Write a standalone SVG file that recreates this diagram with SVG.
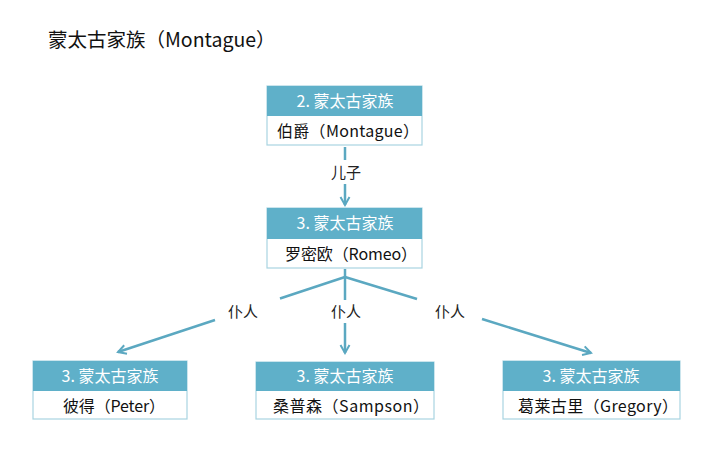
<svg xmlns="http://www.w3.org/2000/svg" width="717" height="453" viewBox="0 0 717 453">
<defs>
<marker id="arr" markerWidth="12" markerHeight="12" refX="10" refY="6" orient="auto" markerUnits="userSpaceOnUse">
<path d="M2,1.5 L10,6 L2,10.5" fill="none" stroke="#5ba8c1" stroke-width="2"/>
</marker>
<style>
.hdr{fill:#5fb0c9}
.body{fill:#ffffff;stroke:#a9d4e1;stroke-width:1.2}
.ht{font-family:"Noto Sans CJK SC","Noto Sans",sans-serif;font-size:16px;fill:#ffffff;text-anchor:middle}
.bt{font-family:"Noto Sans CJK SC","Noto Sans",sans-serif;font-size:16px;fill:#111111}
.lbl{font-family:"Noto Sans CJK SC",sans-serif;font-size:15px;fill:#222222;text-anchor:middle}
.ln{stroke:#5ba8c1;stroke-width:2.5;fill:none}
</style>
</defs>
<rect width="717" height="453" fill="#ffffff"/>
<text x="48" y="47" font-family="'Noto Sans CJK SC','Noto Sans',sans-serif" font-size="19.5" fill="#111">蒙太古家族（Montague）</text>

<g id="connectors">
<line class="ln" x1="345" y1="147" x2="345" y2="160"/>
<line class="ln" x1="345" y1="184" x2="345" y2="205" marker-end="url(#arr)"/>
<line class="ln" x1="345" y1="269" x2="345" y2="277"/>
<line class="ln" x1="345" y1="277" x2="280" y2="298.5"/>
<line class="ln" x1="215" y1="320" x2="118" y2="352" marker-end="url(#arr)"/>
<line class="ln" x1="345" y1="277" x2="345" y2="300"/>
<line class="ln" x1="345" y1="323" x2="345" y2="353" marker-end="url(#arr)"/>
<line class="ln" x1="345" y1="277" x2="417" y2="299"/>
<line class="ln" x1="482" y1="319" x2="591" y2="353" marker-end="url(#arr)"/>
<text class="lbl" x="346" y="178">儿子</text>
<text class="lbl" x="243" y="317">仆人</text>
<text class="lbl" x="346" y="317">仆人</text>
<text class="lbl" x="450" y="317">仆人</text>
</g>

<g id="montague">
<rect class="body" x="267" y="86" width="155" height="59"/>
<rect class="hdr" x="267" y="86" width="155" height="30"/>
<text class="ht" x="345" y="107">2. 蒙太古家族</text>
<text class="bt" x="277" y="137" textLength="142" lengthAdjust="spacing">伯爵（Montague）</text>
</g>

<g id="romeo">
<rect class="body" x="267" y="208" width="155" height="60"/>
<rect class="hdr" x="267" y="208" width="155" height="31"/>
<text class="ht" x="345" y="229">3. 蒙太古家族</text>
<text class="bt" x="285" y="260" textLength="132" lengthAdjust="spacing">罗密欧（Romeo）</text>
</g>

<g id="peter">
<rect class="body" x="33" y="361" width="154" height="58"/>
<rect class="hdr" x="33" y="361" width="154" height="30"/>
<text class="ht" x="110" y="382">3. 蒙太古家族</text>
<text class="bt" x="63" y="412" textLength="102" lengthAdjust="spacing">彼得（Peter）</text>
</g>

<g id="sampson">
<rect class="body" x="256" y="362" width="178" height="57"/>
<rect class="hdr" x="256" y="362" width="178" height="29"/>
<text class="ht" x="345" y="382">3. 蒙太古家族</text>
<text class="bt" x="273" y="412" textLength="156" lengthAdjust="spacing">桑普森（Sampson）</text>
</g>

<g id="gregory">
<rect class="body" x="503" y="361" width="177" height="58"/>
<rect class="hdr" x="503" y="361" width="177" height="30"/>
<text class="ht" x="591" y="382">3. 蒙太古家族</text>
<text class="bt" x="518" y="412" textLength="160" lengthAdjust="spacing">葛莱古里（Gregory）</text>
</g>
</svg>
